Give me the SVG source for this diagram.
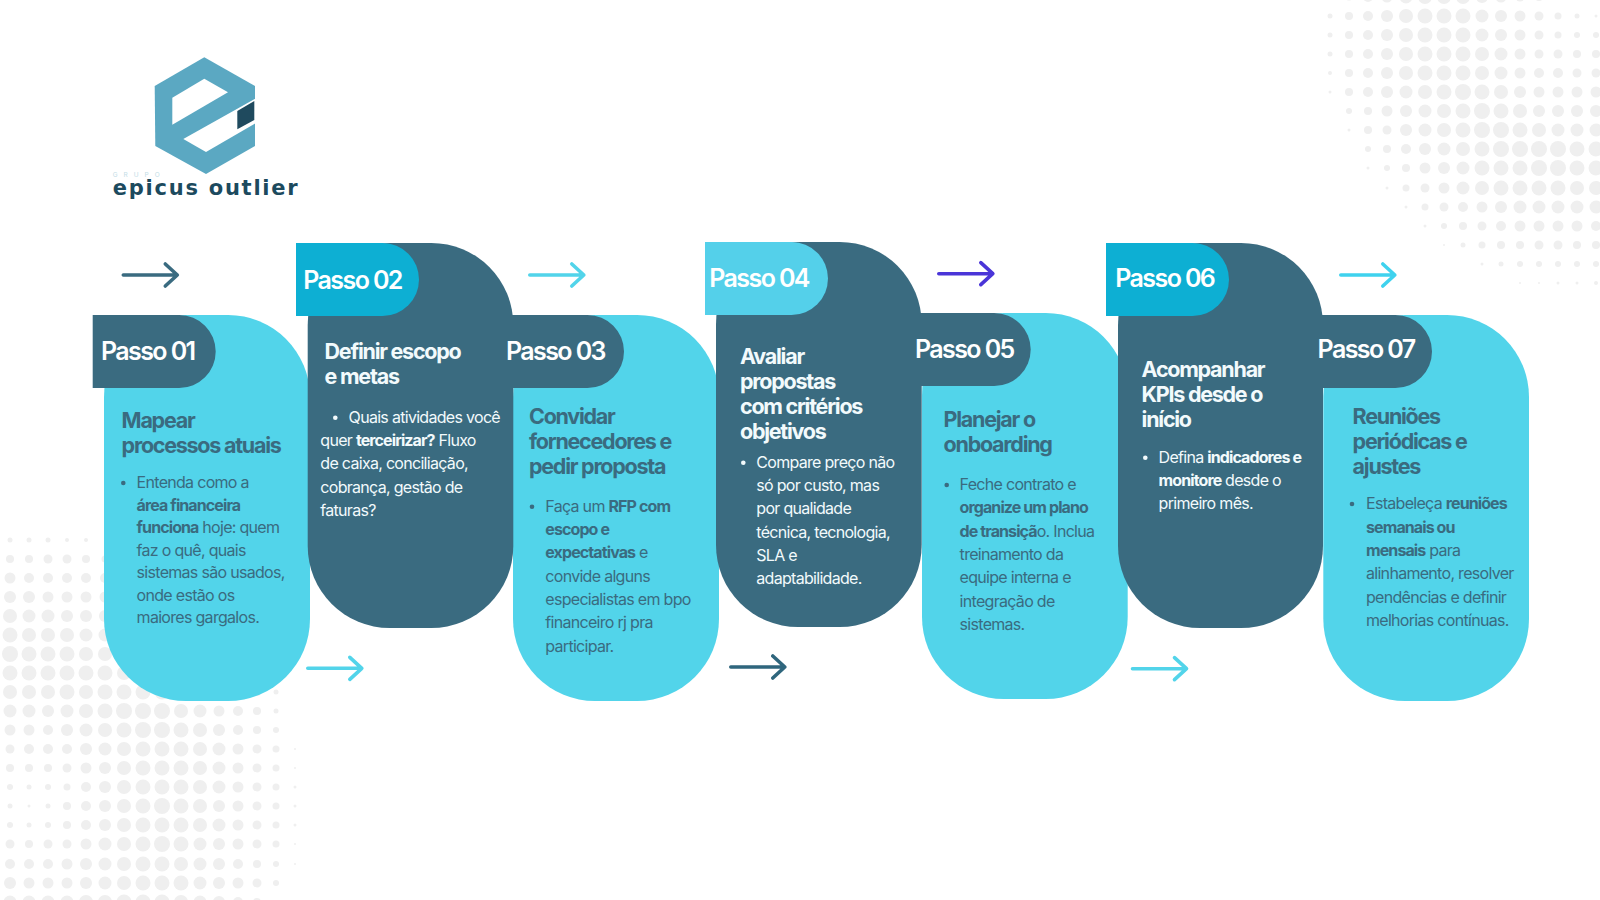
<svg xmlns="http://www.w3.org/2000/svg" width="1600" height="900" viewBox="0 0 1600 900">
<style>
text{font-family:"Inter","Liberation Sans",sans-serif;transform:translateX(-.7px)}
.bg{fill:#fff}
.dots circle{fill:#efefef}
.cy{fill:#52d4ea}
.dk{fill:#3a6b80}
.tab{font-size:25px;font-weight:600;letter-spacing:-1.6px;fill:#fff}
.t{font-size:21.5px;font-weight:700;letter-spacing:-1.25px}
.b{font-size:16px;font-weight:400;letter-spacing:-.7px}
.b tspan{font-weight:700;letter-spacing:-.9px}
.on-c{fill:#3a6b80}
.on-d{fill:#f2fafc}
.arrow{fill:none;stroke-width:3.6;stroke-linecap:round;stroke-linejoin:round}
</style>
<defs><path id="arr" d="M0 0H54M42 -11L54 0L42 11"/></defs>
<rect class="bg" width="1600" height="900"/>
<g class="dots">
<g transform="translate(0 -3)"><circle cx="1330" r="1.5"/><circle cx="1349" r="3.5"/><circle cx="1368" r="5"/><circle cx="1387" r="5.5"/><circle cx="1406" r="6.5"/><circle cx="1425" r="7"/><circle cx="1444" r="7"/><circle cx="1463" r="7"/><circle cx="1482" r="6"/><circle cx="1501" r="5.5"/><circle cx="1520" r="4.5"/><circle cx="1539" r="4"/><circle cx="1558" r="3"/><circle cx="1577" r="2"/></g>
<g transform="translate(0 16)"><circle cx="1330" r="2.5"/><circle cx="1349" r="4"/><circle cx="1368" r="5"/><circle cx="1387" r="6"/><circle cx="1406" r="7"/><circle cx="1425" r="7.5"/><circle cx="1444" r="7.5"/><circle cx="1463" r="7.5"/><circle cx="1482" r="6.5"/><circle cx="1501" r="6"/><circle cx="1520" r="5.5"/><circle cx="1539" r="4.5"/><circle cx="1558" r="3.5"/><circle cx="1577" r="2.5"/><circle cx="1596" r="1.5"/></g>
<g transform="translate(0 35)"><circle cx="1330" r="2.5"/><circle cx="1349" r="4"/><circle cx="1368" r="5"/><circle cx="1387" r="6"/><circle cx="1406" r="7"/><circle cx="1425" r="7.5"/><circle cx="1444" r="7.5"/><circle cx="1463" r="7.5"/><circle cx="1482" r="6.5"/><circle cx="1501" r="6"/><circle cx="1520" r="5.5"/><circle cx="1539" r="4.5"/><circle cx="1558" r="3.5"/><circle cx="1577" r="3"/><circle cx="1596" r="3"/></g>
<g transform="translate(0 54)"><circle cx="1330" r="2.5"/><circle cx="1349" r="4"/><circle cx="1368" r="5"/><circle cx="1387" r="6"/><circle cx="1406" r="7"/><circle cx="1425" r="7.5"/><circle cx="1444" r="7.5"/><circle cx="1463" r="7.5"/><circle cx="1482" r="7"/><circle cx="1501" r="6.5"/><circle cx="1520" r="5.5"/><circle cx="1539" r="4.5"/><circle cx="1558" r="4.5"/><circle cx="1577" r="4"/><circle cx="1596" r="4"/></g>
<g transform="translate(0 73)"><circle cx="1330" r="2"/><circle cx="1349" r="4"/><circle cx="1368" r="5"/><circle cx="1387" r="6"/><circle cx="1406" r="7"/><circle cx="1425" r="7.5"/><circle cx="1444" r="7.5"/><circle cx="1463" r="7.5"/><circle cx="1482" r="7"/><circle cx="1501" r="6.5"/><circle cx="1520" r="5.5"/><circle cx="1539" r="5"/><circle cx="1558" r="5"/><circle cx="1577" r="4.5"/><circle cx="1596" r="4.5"/></g>
<g transform="translate(0 92)"><circle cx="1330" r="1.5"/><circle cx="1349" r="4"/><circle cx="1368" r="5"/><circle cx="1387" r="6"/><circle cx="1406" r="6.5"/><circle cx="1425" r="7"/><circle cx="1444" r="7.5"/><circle cx="1463" r="8"/><circle cx="1482" r="7.5"/><circle cx="1501" r="7"/><circle cx="1520" r="6"/><circle cx="1539" r="5.5"/><circle cx="1558" r="5.5"/><circle cx="1577" r="5.5"/><circle cx="1596" r="5.5"/></g>
<g transform="translate(0 111)"><circle cx="1349" r="3"/><circle cx="1368" r="4"/><circle cx="1387" r="5.5"/><circle cx="1406" r="6"/><circle cx="1425" r="6.5"/><circle cx="1444" r="7"/><circle cx="1463" r="7.5"/><circle cx="1482" r="8"/><circle cx="1501" r="7.5"/><circle cx="1520" r="7"/><circle cx="1539" r="6"/><circle cx="1558" r="6"/><circle cx="1577" r="6"/><circle cx="1596" r="6"/></g>
<g transform="translate(0 130)"><circle cx="1349" r="1.5"/><circle cx="1368" r="4"/><circle cx="1387" r="4.5"/><circle cx="1406" r="6"/><circle cx="1425" r="6.5"/><circle cx="1444" r="7"/><circle cx="1463" r="7.5"/><circle cx="1482" r="8"/><circle cx="1501" r="8"/><circle cx="1520" r="7.5"/><circle cx="1539" r="7"/><circle cx="1558" r="6.5"/><circle cx="1577" r="6.5"/><circle cx="1596" r="6.5"/></g>
<g transform="translate(0 149)"><circle cx="1368" r="3"/><circle cx="1387" r="4"/><circle cx="1406" r="5"/><circle cx="1425" r="6"/><circle cx="1444" r="6.5"/><circle cx="1463" r="7"/><circle cx="1482" r="7.5"/><circle cx="1501" r="8"/><circle cx="1520" r="8"/><circle cx="1539" r="8"/><circle cx="1558" r="8"/><circle cx="1577" r="7.5"/><circle cx="1596" r="7.5"/></g>
<g transform="translate(0 168)"><circle cx="1368" r="1.5"/><circle cx="1387" r="3"/><circle cx="1406" r="4"/><circle cx="1425" r="5.5"/><circle cx="1444" r="6"/><circle cx="1463" r="6.5"/><circle cx="1482" r="7.5"/><circle cx="1501" r="7.5"/><circle cx="1520" r="7.5"/><circle cx="1539" r="8"/><circle cx="1558" r="8"/><circle cx="1577" r="7.5"/><circle cx="1596" r="7.5"/></g>
<g transform="translate(0 188)"><circle cx="1387" r="1.5"/><circle cx="1406" r="3.5"/><circle cx="1425" r="4.5"/><circle cx="1444" r="5.5"/><circle cx="1463" r="6.5"/><circle cx="1482" r="7"/><circle cx="1501" r="7.5"/><circle cx="1520" r="7.5"/><circle cx="1539" r="7.5"/><circle cx="1558" r="7.5"/><circle cx="1577" r="7"/><circle cx="1596" r="7"/></g>
<g transform="translate(0 207)"><circle cx="1406" r="1.5"/><circle cx="1425" r="3.5"/><circle cx="1444" r="4.5"/><circle cx="1463" r="5"/><circle cx="1482" r="5.5"/><circle cx="1501" r="6"/><circle cx="1520" r="6.5"/><circle cx="1539" r="6.5"/><circle cx="1558" r="6.5"/><circle cx="1577" r="6.5"/><circle cx="1596" r="6.5"/></g>
<g transform="translate(0 226)"><circle cx="1425" r="1.5"/><circle cx="1444" r="3"/><circle cx="1463" r="4"/><circle cx="1482" r="4.5"/><circle cx="1501" r="5"/><circle cx="1520" r="5.5"/><circle cx="1539" r="5.5"/><circle cx="1558" r="5.5"/><circle cx="1577" r="5.5"/><circle cx="1596" r="5"/></g>
<g transform="translate(0 245)"><circle cx="1444" r="1"/><circle cx="1463" r="2.5"/><circle cx="1482" r="3.5"/><circle cx="1501" r="4"/><circle cx="1520" r="4"/><circle cx="1539" r="4.5"/><circle cx="1558" r="4.5"/><circle cx="1577" r="4"/><circle cx="1596" r="4"/></g>
<g transform="translate(0 264)"><circle cx="1482" r="1.5"/><circle cx="1501" r="2.5"/><circle cx="1520" r="3"/><circle cx="1539" r="3"/><circle cx="1558" r="3"/><circle cx="1577" r="3"/><circle cx="1596" r="3"/></g>
<g transform="translate(0 283)"><circle cx="1520" r="1"/><circle cx="1539" r="1"/><circle cx="1558" r="1.5"/><circle cx="1577" r="1.5"/><circle cx="1596" r="2"/></g>
<g transform="translate(0 540)"><circle cx="10" r="2.5"/><circle cx="29" r="2.5"/><circle cx="48" r="2.5"/><circle cx="67" r="2"/><circle cx="86" r="2"/></g>
<g transform="translate(0 559)"><circle cx="10" r="4"/><circle cx="29" r="4"/><circle cx="48" r="4.5"/><circle cx="67" r="4.5"/><circle cx="86" r="4"/><circle cx="105" r="3.5"/></g>
<g transform="translate(0 578)"><circle cx="10" r="5.5"/><circle cx="29" r="5"/><circle cx="48" r="5"/><circle cx="67" r="5"/><circle cx="86" r="5"/><circle cx="105" r="5"/></g>
<g transform="translate(0 597)"><circle cx="10" r="6"/><circle cx="29" r="6"/><circle cx="48" r="5.5"/><circle cx="67" r="5.5"/><circle cx="86" r="5.5"/><circle cx="105" r="5.5"/></g>
<g transform="translate(0 616)"><circle cx="10" r="7"/><circle cx="29" r="6.5"/><circle cx="48" r="6.5"/><circle cx="67" r="6"/><circle cx="86" r="6"/><circle cx="105" r="6"/></g>
<g transform="translate(0 635)"><circle cx="10" r="7.5"/><circle cx="29" r="7"/><circle cx="48" r="7"/><circle cx="67" r="7"/><circle cx="86" r="6.5"/><circle cx="105" r="6.5"/></g>
<g transform="translate(0 654)"><circle cx="10" r="8"/><circle cx="29" r="7.5"/><circle cx="48" r="7.5"/><circle cx="67" r="7.5"/><circle cx="86" r="7"/><circle cx="105" r="7"/><circle cx="124" r="7"/></g>
<g transform="translate(0 673)"><circle cx="10" r="7.5"/><circle cx="29" r="7.5"/><circle cx="48" r="7.5"/><circle cx="67" r="7.5"/><circle cx="86" r="7.5"/><circle cx="105" r="7.5"/><circle cx="124" r="7"/><circle cx="143" r="6.5"/></g>
<g transform="translate(0 692)"><circle cx="10" r="7"/><circle cx="29" r="7"/><circle cx="48" r="7"/><circle cx="67" r="7.5"/><circle cx="86" r="7"/><circle cx="105" r="7.5"/><circle cx="124" r="7.5"/><circle cx="143" r="7.5"/><circle cx="162" r="7.5"/><circle cx="181" r="7"/><circle cx="200" r="6.5"/><circle cx="219" r="5.5"/><circle cx="238" r="5"/><circle cx="257" r="4"/><circle cx="276" r="2.5"/></g>
<g transform="translate(0 711)"><circle cx="10" r="6.5"/><circle cx="29" r="6.5"/><circle cx="48" r="6"/><circle cx="67" r="6.5"/><circle cx="86" r="7"/><circle cx="105" r="7.5"/><circle cx="124" r="8"/><circle cx="143" r="8"/><circle cx="162" r="8"/><circle cx="181" r="7"/><circle cx="200" r="6.5"/><circle cx="219" r="5.5"/><circle cx="238" r="5"/><circle cx="257" r="4"/><circle cx="276" r="2.5"/></g>
<g transform="translate(0 730)"><circle cx="10" r="5.5"/><circle cx="29" r="5.5"/><circle cx="48" r="5"/><circle cx="67" r="6"/><circle cx="86" r="6.5"/><circle cx="105" r="7"/><circle cx="124" r="7.5"/><circle cx="143" r="8"/><circle cx="162" r="8"/><circle cx="181" r="7.5"/><circle cx="200" r="7"/><circle cx="219" r="6"/><circle cx="238" r="5"/><circle cx="257" r="4"/><circle cx="276" r="3"/></g>
<g transform="translate(0 749)"><circle cx="10" r="4.5"/><circle cx="29" r="5"/><circle cx="48" r="5"/><circle cx="67" r="5"/><circle cx="86" r="6"/><circle cx="105" r="6.5"/><circle cx="124" r="7"/><circle cx="143" r="7.5"/><circle cx="162" r="7.5"/><circle cx="181" r="7.5"/><circle cx="200" r="7"/><circle cx="219" r="6.5"/><circle cx="238" r="5.5"/><circle cx="257" r="4.5"/><circle cx="276" r="3.5"/><circle cx="295" r="1"/></g>
<g transform="translate(0 768)"><circle cx="10" r="4"/><circle cx="29" r="4"/><circle cx="48" r="4"/><circle cx="67" r="4.5"/><circle cx="86" r="5.5"/><circle cx="105" r="6"/><circle cx="124" r="7"/><circle cx="143" r="7.5"/><circle cx="162" r="7.5"/><circle cx="181" r="7.5"/><circle cx="200" r="7"/><circle cx="219" r="6.5"/><circle cx="238" r="5.5"/><circle cx="257" r="4.5"/><circle cx="276" r="3.5"/><circle cx="295" r="1"/></g>
<g transform="translate(0 787)"><circle cx="10" r="3"/><circle cx="29" r="2.5"/><circle cx="48" r="3"/><circle cx="67" r="3.5"/><circle cx="86" r="5"/><circle cx="105" r="6"/><circle cx="124" r="7"/><circle cx="143" r="7.5"/><circle cx="162" r="7.5"/><circle cx="181" r="7.5"/><circle cx="200" r="7"/><circle cx="219" r="6.5"/><circle cx="238" r="5.5"/><circle cx="257" r="4.5"/><circle cx="276" r="3.5"/><circle cx="295" r="1.5"/></g>
<g transform="translate(0 806)"><circle cx="10" r="2.5"/><circle cx="29" r="1.5"/><circle cx="48" r="2.5"/><circle cx="67" r="4"/><circle cx="86" r="5"/><circle cx="105" r="6"/><circle cx="124" r="7"/><circle cx="143" r="7.5"/><circle cx="162" r="8"/><circle cx="181" r="7.5"/><circle cx="200" r="7"/><circle cx="219" r="6"/><circle cx="238" r="5.5"/><circle cx="257" r="4.5"/><circle cx="276" r="3.5"/><circle cx="295" r="1.5"/></g>
<g transform="translate(0 825)"><circle cx="10" r="3"/><circle cx="29" r="2.5"/><circle cx="48" r="3"/><circle cx="67" r="4"/><circle cx="86" r="5"/><circle cx="105" r="6"/><circle cx="124" r="7"/><circle cx="143" r="7.5"/><circle cx="162" r="7.5"/><circle cx="181" r="7.5"/><circle cx="200" r="7"/><circle cx="219" r="6.5"/><circle cx="238" r="5.5"/><circle cx="257" r="4.5"/><circle cx="276" r="3.5"/><circle cx="295" r="1.5"/></g>
<g transform="translate(0 844)"><circle cx="10" r="4.5"/><circle cx="29" r="4"/><circle cx="48" r="4.5"/><circle cx="67" r="4.5"/><circle cx="86" r="5.5"/><circle cx="105" r="6.5"/><circle cx="124" r="7"/><circle cx="143" r="7.5"/><circle cx="162" r="8"/><circle cx="181" r="7.5"/><circle cx="200" r="6.5"/><circle cx="219" r="6"/><circle cx="238" r="5.5"/><circle cx="257" r="4.5"/><circle cx="276" r="3.5"/><circle cx="295" r="1"/></g>
<g transform="translate(0 864)"><circle cx="10" r="5"/><circle cx="29" r="5"/><circle cx="48" r="5"/><circle cx="67" r="5.5"/><circle cx="86" r="6"/><circle cx="105" r="6.5"/><circle cx="124" r="7"/><circle cx="143" r="7.5"/><circle cx="162" r="7.5"/><circle cx="181" r="7"/><circle cx="200" r="6.5"/><circle cx="219" r="6"/><circle cx="238" r="5"/><circle cx="257" r="4"/><circle cx="276" r="3"/><circle cx="295" r="1"/></g>
<g transform="translate(0 883)"><circle cx="10" r="6"/><circle cx="29" r="5.5"/><circle cx="48" r="5.5"/><circle cx="67" r="5.5"/><circle cx="86" r="6"/><circle cx="105" r="6.5"/><circle cx="124" r="7"/><circle cx="143" r="7.5"/><circle cx="162" r="7.5"/><circle cx="181" r="7.5"/><circle cx="200" r="6.5"/><circle cx="219" r="6"/><circle cx="238" r="5.5"/><circle cx="257" r="4.5"/><circle cx="276" r="3"/></g>
<g transform="translate(0 902)"><circle cx="10" r="6.5"/><circle cx="29" r="6.5"/><circle cx="48" r="6.5"/><circle cx="67" r="6.5"/><circle cx="86" r="7"/><circle cx="105" r="7"/><circle cx="124" r="7.5"/><circle cx="143" r="7.5"/><circle cx="162" r="7.5"/><circle cx="181" r="7"/><circle cx="200" r="6.5"/><circle cx="219" r="6"/><circle cx="238" r="5"/><circle cx="257" r="4"/></g>
</g>
<g id="logo">
<polygon fill="#5ba8c2" points="204.3,57.3 255,86 255,146 206,174 155.3,146 154.7,86"/>
<polygon fill="#fff" points="172.3,97.7 204.3,78.7 228,92.3 172.3,124.7"/>
<polygon fill="#fff" points="183.3,139 256,98.3 256,123 206,152"/>
<polygon fill="#1f4a5e" points="237.3,111 254.3,101 254.3,120 237.3,129.3"/>
<text x="113.4" y="177" font-size="6.5" letter-spacing="6" fill="#c3dde6">GRUPO</text>
<text x="113.4" y="194.6" font-size="21" font-weight="700" textLength="185" lengthAdjust="spacing" fill="#1c4a5e" style="font-family:'DejaVu Sans',sans-serif">epicus outlier</text>
</g>
<g id="passo-01">
<rect class="cy" x="104" y="315" width="206" height="386" rx="82"/>
<text class="t on-c" x="122.3" y="428">Mapear</text>
<text class="t on-c" x="122.3" y="453">processos atuais</text>
<circle class="on-c" cx="123.3" cy="483" r="2.3"/>
<text class="b on-c" x="137.3" y="488">Entenda como a</text>
<text class="b on-c" x="137.3" y="510.5"><tspan>área financeira</tspan></text>
<text class="b on-c" x="137.3" y="533"><tspan>funciona</tspan> hoje: quem</text>
<text class="b on-c" x="137.3" y="555.5">faz o quê, quais</text>
<text class="b on-c" x="137.3" y="578">sistemas são usados,</text>
<text class="b on-c" x="137.3" y="600.5">onde estão os</text>
<text class="b on-c" x="137.3" y="623">maiores gargalos.</text>
</g>
<g id="passo-03">
<rect class="cy" x="513" y="315" width="206" height="386" rx="82"/>
<text class="t on-c" x="529.7" y="424">Convidar</text>
<text class="t on-c" x="529.7" y="449">fornecedores e</text>
<text class="t on-c" x="529.7" y="474">pedir proposta</text>
<circle class="on-c" cx="532" cy="506.7" r="2.3"/>
<text class="b on-c" x="546" y="511.7">Faça um <tspan>RFP com</tspan></text>
<text class="b on-c" x="546" y="535"><tspan>escopo e</tspan></text>
<text class="b on-c" x="546" y="558.3"><tspan>expectativas</tspan> e</text>
<text class="b on-c" x="546" y="581.6">convide alguns</text>
<text class="b on-c" x="546" y="605">especialistas em bpo</text>
<text class="b on-c" x="546" y="628.3">financeiro rj pra</text>
<text class="b on-c" x="546" y="651.6">participar.</text>
</g>
<g id="passo-05">
<rect class="cy" x="922" y="313" width="205.7" height="386" rx="82"/>
<text class="t on-c" x="944.3" y="427.3">Planejar o</text>
<text class="t on-c" x="944.3" y="452.3">onboarding</text>
<circle class="on-c" cx="946.7" cy="485" r="2.3"/>
<text class="b on-c" x="960.3" y="490">Feche contrato e</text>
<text class="b on-c" x="960.3" y="513.3"><tspan>organize um plano</tspan></text>
<text class="b on-c" x="960.3" y="536.6"><tspan>de transiçã</tspan>o. Inclua</text>
<text class="b on-c" x="960.3" y="560">treinamento da</text>
<text class="b on-c" x="960.3" y="583.3">equipe interna e</text>
<text class="b on-c" x="960.3" y="606.6">integração de</text>
<text class="b on-c" x="960.3" y="630">sistemas.</text>
</g>
<g id="passo-07">
<rect class="cy" x="1323.3" y="315" width="205.7" height="386" rx="82"/>
<text class="t on-c" x="1353.3" y="424">Reuniões</text>
<text class="t on-c" x="1353.3" y="449">periódicas e</text>
<text class="t on-c" x="1353.3" y="474">ajustes</text>
<circle class="on-c" cx="1352" cy="504" r="2.3"/>
<text class="b on-c" x="1366.7" y="509.3">Estabeleça <tspan>reuniões</tspan></text>
<text class="b on-c" x="1366.7" y="532.6"><tspan>semanais ou</tspan></text>
<text class="b on-c" x="1366.7" y="556"><tspan>mensais</tspan> para</text>
<text class="b on-c" x="1366.7" y="579.3">alinhamento, resolver</text>
<text class="b on-c" x="1366.7" y="602.6">pendências e definir</text>
<text class="b on-c" x="1366.7" y="626">melhorias contínuas.</text>
</g>
<g id="passo-02">
<rect class="dk" x="307.7" y="243" width="205.6" height="385" rx="82"/>
<path fill="#0dafd3" d="M296 243H382.5A36.5 36.5 0 0 1 382.5 316H296Z"/>
<text class="tab" x="304" y="289">Passo 02</text>
<text class="t on-d" x="325.3" y="359">Definir escopo</text>
<text class="t on-d" x="325.3" y="384">e metas</text>
<circle class="on-d" cx="335.3" cy="417.7" r="2.3"/>
<text class="b on-d" x="349.3" y="422.7">Quais atividades você</text>
<text class="b on-d" x="321" y="446">quer <tspan>terceirizar?</tspan>  Fluxo</text>
<text class="b on-d" x="321" y="469.3">de caixa, conciliação,</text>
<text class="b on-d" x="321" y="492.6">cobrança, gestão de</text>
<text class="b on-d" x="321" y="516">faturas?</text>
</g>
<g id="passo-04">
<rect class="dk" x="716" y="242" width="205.7" height="385" rx="82"/>
<path fill="#54d0ea" d="M705 242H791.5A36.5 36.5 0 0 1 791.5 315H705Z"/>
<text class="tab" x="710" y="286.7">Passo 04</text>
<text class="t on-d" x="740.7" y="364">Avaliar</text>
<text class="t on-d" x="740.7" y="389">propostas</text>
<text class="t on-d" x="740.7" y="414">com critérios</text>
<text class="t on-d" x="740.7" y="439">objetivos</text>
<circle class="on-d" cx="743.3" cy="462.7" r="2.3"/>
<text class="b on-d" x="757" y="467.7">Compare preço não</text>
<text class="b on-d" x="757" y="491">só por custo, mas</text>
<text class="b on-d" x="757" y="514.3">por qualidade</text>
<text class="b on-d" x="757" y="537.6">técnica, tecnologia,</text>
<text class="b on-d" x="757" y="561">SLA e</text>
<text class="b on-d" x="757" y="584.3">adaptabilidade.</text>
</g>
<g id="passo-06">
<rect class="dk" x="1118" y="243" width="205" height="385" rx="82"/>
<path fill="#0dafd3" d="M1106 243H1192.5A36.5 36.5 0 0 1 1192.5 316H1106Z"/>
<text class="tab" x="1116" y="286.7">Passo 06</text>
<text class="t on-d" x="1142.3" y="376.7">Acompanhar</text>
<text class="t on-d" x="1142.3" y="401.7">KPIs desde o</text>
<text class="t on-d" x="1142.3" y="426.7">início</text>
<circle class="on-d" cx="1145.3" cy="457.7" r="2.3"/>
<text class="b on-d" x="1159.3" y="462.7">Defina <tspan>indicadores e</tspan></text>
<text class="b on-d" x="1159.3" y="486"><tspan>monitore</tspan> desde o</text>
<text class="b on-d" x="1159.3" y="509.3">primeiro mês.</text>
</g>
<g id="passo-01-tab">
<path class="dk" d="M92.7 315H179.2A36.5 36.5 0 0 1 179.2 388H92.7Z"/>
<text class="tab" x="101.7" y="360">Passo 01</text>
</g>
<g id="passo-03-tab">
<path class="dk" d="M501 315H587.5A36.5 36.5 0 0 1 587.5 388H501Z"/>
<text class="tab" x="506.7" y="359.5">Passo 03</text>
</g>
<g id="passo-05-tab">
<path class="dk" d="M911 313H994.2A36.5 36.5 0 0 1 994.2 386H911Z"/>
<text class="tab" x="915.7" y="358">Passo 05</text>
</g>
<g id="passo-07-tab">
<path class="dk" d="M1312 315H1395.5A36.5 36.5 0 0 1 1395.5 388H1312Z"/>
<text class="tab" x="1318.3" y="358">Passo 07</text>
</g>
<g id="connectors" class="arrow">
<use href="#arr" x="123.3" y="275" stroke="#3a6b80"/>
<use href="#arr" x="307.8" y="668.3" stroke="#52d4ea"/>
<use href="#arr" x="529.8" y="275" stroke="#52d4ea"/>
<use href="#arr" x="730.8" y="667" stroke="#2f667d"/>
<use href="#arr" x="938.8" y="273.7" stroke="#4a35d8"/>
<use href="#arr" x="1132.5" y="668.7" stroke="#52d4ea"/>
<use href="#arr" x="1340.8" y="275" stroke="#3fd2ee"/>
</g>
</svg>
